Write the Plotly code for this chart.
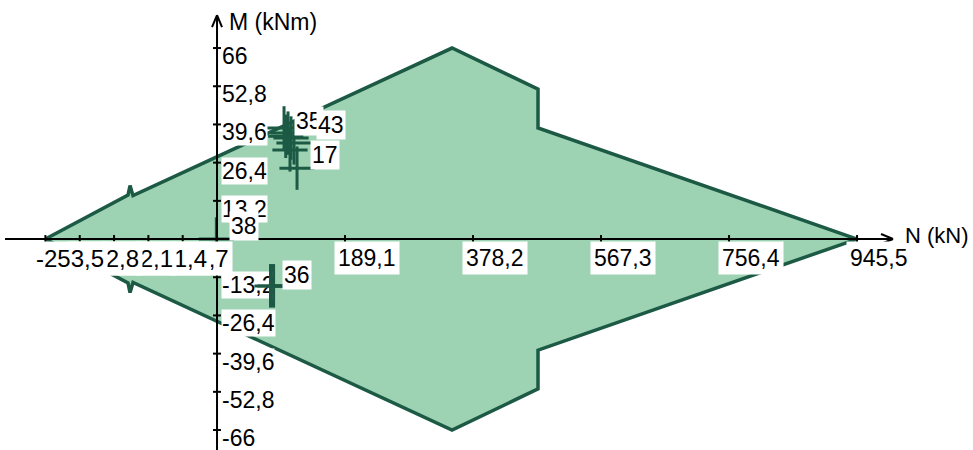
import plotly.graph_objects as go

# ---------------- data ----------------
# Interaction boundary (N in kN, M in kNm)
boundary_N = [-253.5, -131.5, -128.5, -124.1, 347.2, 474.2, 474.2, 945.5,
              474.2, 474.2, 347.2, -124.1, -128.5, -131.5, -253.5]
boundary_M = [0.0, 15.2, 18.5, 15.0, 66.0, 51.8, 38.4, 0.0,
              -38.4, -51.8, -66.0, -15.0, -18.5, -15.2, 0.0]

# Load points (N, M)
load_N = [99.0, 104.9, 109.3, 113.7, 107.8, 101.5, 118.2, 79.0, 83.5, -1.0]
load_M = [38.4, 36.6, 34.9, 33.2, 30.8, 35.5, 24.5, -16.2, -16.2, 0.0]

# Load point labels (position of label, text)
label_N = [135.9, 168.0, 159.9, 39.9, 118.0]
label_M = [40.8, 39.5, 28.9, 4.5, -12.4]
label_txt = ["35", "43", "17", "38", "36"]

# Axis ticks
x_ticks = [-253.5, -202.8, -152.1, -101.4, -50.7, 189.1, 378.2, 567.3, 756.4, 945.5]
x_tick_txt = ["-253,5", "-202,8", "-152,1", "-101,4", "-50,7",
              "189,1", "378,2", "567,3", "756,4", "945,5"]
y_ticks = [66, 52.8, 39.6, 26.4, 13.2, -13.2, -26.4, -39.6, -52.8, -66]
y_tick_txt = ["66", "52,8", "39,6", "26,4", "13,2",
              "-13,2", "-26,4", "-39,6", "-52,8", "-66"]

# ---------------- figure ----------------
W, H = 973, 450
X_RANGE = [-320.6, 1116.8]
Y_RANGE = [-72.9, 82.6]
kx = (X_RANGE[1] - X_RANGE[0]) / W   # kN per pixel
ky = (Y_RANGE[1] - Y_RANGE[0]) / H   # kNm per pixel

FILL = "#9dd3b3"
EDGE = "#1d5a45"
FONT = "Liberation Sans, Arial, sans-serif"
ARM_N, ARM_M = 26, 7.5   # half-length of the cross marks (kN, kNm)

fig = go.Figure()

fig.add_trace(go.Scatter(
    x=boundary_N, y=boundary_M, mode="lines", fill="toself",
    fillcolor=FILL, line=dict(color=EDGE, width=3.5), hoverinfo="skip"))

fig.add_trace(go.Scatter(
    x=load_N, y=load_M, mode="markers",
    marker=dict(size=1, color="rgba(0,0,0,0)"),
    error_x=dict(type="constant", value=ARM_N, thickness=3, width=0, color=EDGE),
    error_y=dict(type="constant", value=ARM_M, thickness=3, width=0, color=EDGE),
    hoverinfo="skip"))

shapes = []
# axes
x_tip = (893 - 217) * kx
y_tip = (239 - 15) * ky
shapes.append(dict(type="line", x0=X_RANGE[0] + 5 * kx, x1=x_tip, y0=0, y1=0,
                   line=dict(color="black", width=2)))
shapes.append(dict(type="line", x0=0, x1=0, y0=Y_RANGE[0], y1=y_tip,
                   line=dict(color="black", width=2)))
# arrow heads (open V)
for s in (1, -1):
    shapes.append(dict(type="line", x0=x_tip, y0=0, x1=x_tip - 12 * kx, y1=s * 5 * ky,
                       line=dict(color="black", width=2)))
    shapes.append(dict(type="line", x0=0, y0=y_tip, x1=s * 5 * kx, y1=y_tip - 12 * ky,
                       line=dict(color="black", width=2)))
# tick marks
for t in x_ticks:
    shapes.append(dict(type="line", x0=t, x1=t, y0=-4 * ky, y1=4 * ky,
                       line=dict(color="black", width=2)))
for t in y_ticks:
    shapes.append(dict(type="line", x0=-4 * kx, x1=4 * kx, y0=t, y1=t,
                       line=dict(color="black", width=2)))

ann = []
font22 = dict(family=FONT, size=22, color="black")
font23 = dict(family=FONT, size=23, color="black")
font24 = dict(family=FONT, size=24, color="black")
# y tick labels
for v, s in zip(y_ticks, y_tick_txt):
    ann.append(dict(x=0, y=v, text=s, showarrow=False, xanchor="left", yanchor="middle",
                    xshift=4, yshift=-8, bgcolor="white", borderpad=0, font=font23))
# cross marks of the points below the N axis are printed over the M tick labels
for n, m in zip(load_N, load_M):
    if m < 0:
        for (x0, y0, x1, y1) in ((n - ARM_N, m, n + ARM_N, m), (n, m - ARM_M, n, m + ARM_M)):
            ann.append(dict(x=x1, y=y1, ax=x0, ay=y0, axref="x", ayref="y", text="",
                            showarrow=True, arrowhead=0, arrowwidth=3, arrowcolor=EDGE,
                            standoff=0, startstandoff=0))
# x tick labels, drawn right-to-left so the left-most label stays on top
for v, s in sorted(zip(x_ticks, x_tick_txt), key=lambda p: -p[0]):
    neg = v < 0
    ann.append(dict(x=v, y=0, text=s, showarrow=False, xanchor="left", yanchor="top",
                    xshift=-13 if neg else -11, yshift=-2,
                    bgcolor="white", borderpad=3, font=font24 if neg else font23))
# load point labels
for nx, my, s in zip(label_N, label_M, label_txt):
    ann.append(dict(x=nx, y=my, text=s, showarrow=False, xanchor="center",
                    yanchor="middle", bgcolor="white", borderpad=1, font=font23))
# axis titles
ann.append(dict(x=10 * kx, y=(239 - 22) * ky, text="M (kNm)", showarrow=False,
                xanchor="left", yanchor="middle", font=font23))
ann.append(dict(x=x_tip + 10 * kx, y=4 * ky, text="N (kN)", showarrow=False,
                xanchor="left", yanchor="middle", font=font22))

fig.update_layout(
    width=W, height=H, margin=dict(l=0, r=0, t=0, b=0),
    paper_bgcolor="white", plot_bgcolor="white", showlegend=False,
    xaxis=dict(range=X_RANGE, visible=False, fixedrange=True),
    yaxis=dict(range=Y_RANGE, visible=False, fixedrange=True),
    shapes=shapes, annotations=ann,
)

fig.write_html(
    "out.html",
    config={"displayModeBar": False},
    post_script="document.body.style.margin='0';document.body.style.padding='0';"
                "document.body.style.overflow='hidden';",
)
